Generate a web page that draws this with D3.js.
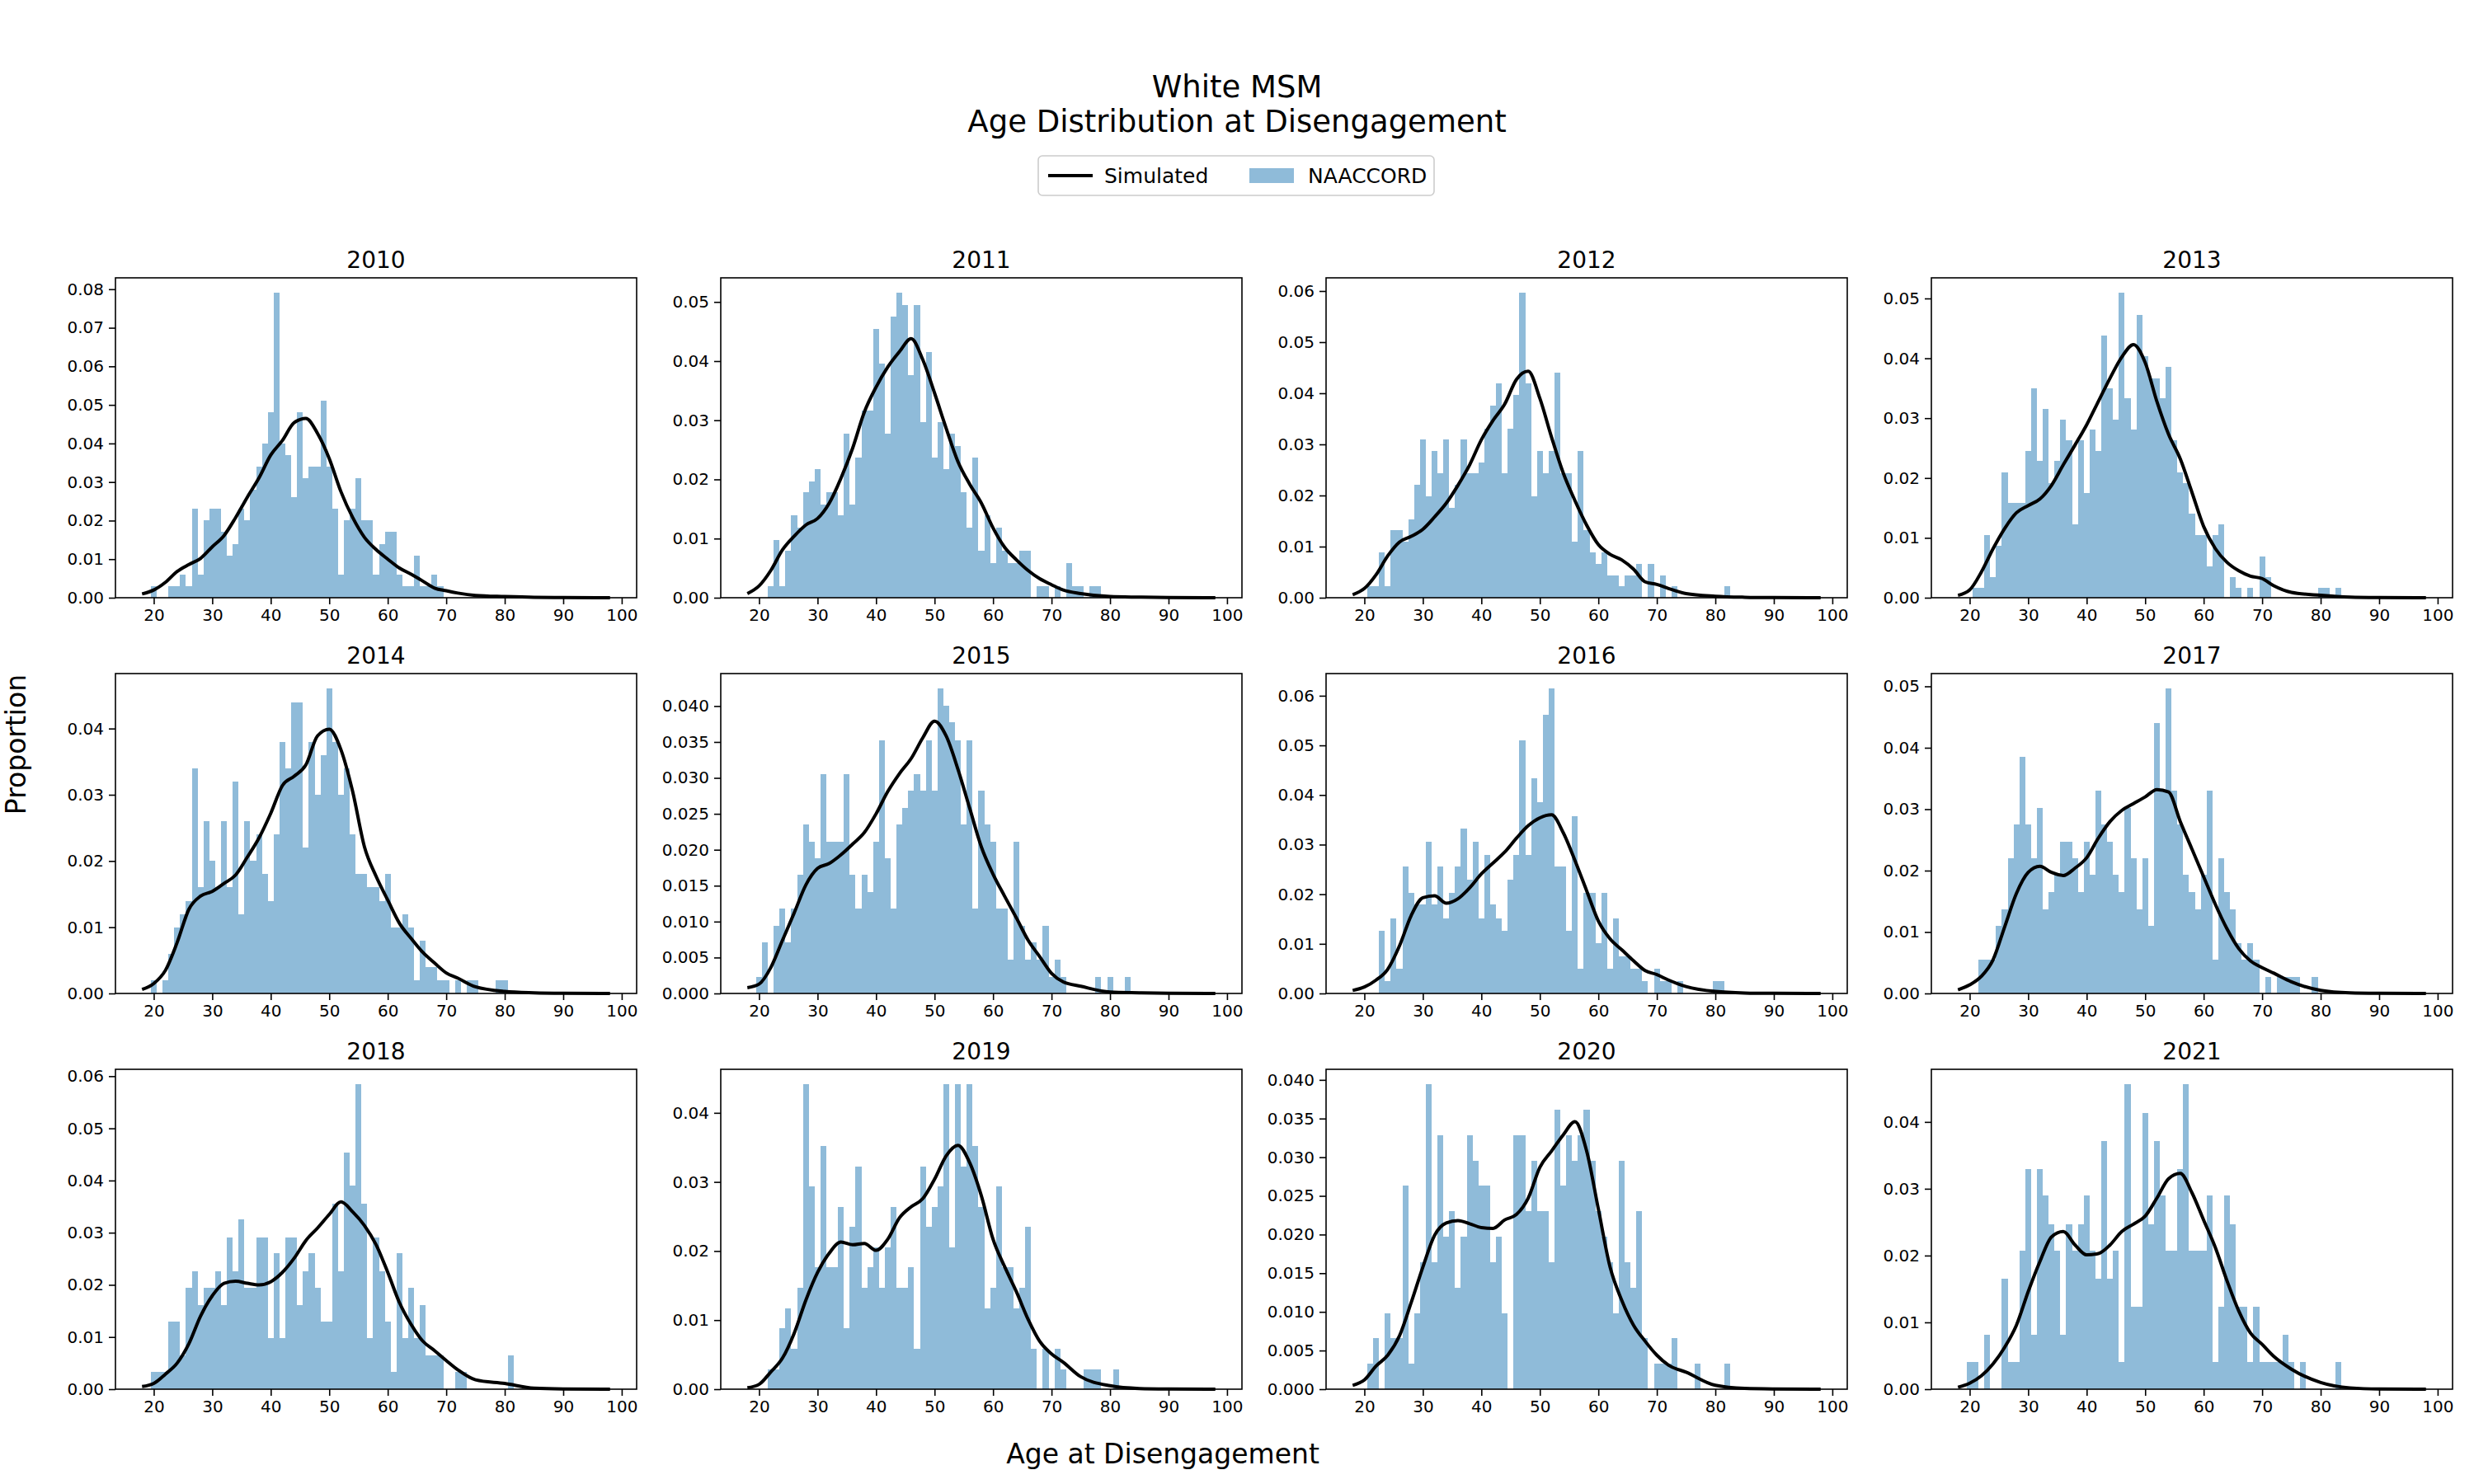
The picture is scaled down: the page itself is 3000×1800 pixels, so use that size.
<!DOCTYPE html>
<html>
<head>
<meta charset="utf-8">
<script src="https://cdn.jsdelivr.net/npm/d3@7"></script>
<style>
  body { margin: 0; background: #fff; }
  svg { font-family: "DejaVu Sans", sans-serif; }
</style>
</head>
<body>
<svg id="chart" width="3000" height="1800"></svg>
<script>
// panel years, in reading order
var years = [2010, 2011, 2012, 2013, 2014, 2015, 2016, 2017, 2018, 2019, 2020, 2021];

// ages where the simulated density was read off
var kdeAges = [18, 20, 22, 24, 26, 28, 30, 32, 34, 36, 38, 40, 42, 44, 46, 48, 50, 52, 54, 56,
  58, 60, 62, 64, 66, 68, 70, 72, 75, 80, 85, 90, 98];

// first age of each NAACCORD histogram (one bar per year of age)
var histStart = [20, 22, 21, 21, 20, 20, 23, 22, 20, 22, 21, 20];

// y tick spacing per panel
var yTickStep = [0.01, 0.01, 0.01, 0.01, 0.01, 0.005, 0.01, 0.01, 0.01, 0.01, 0.005, 0.01];

// NAACCORD proportions by age
var hist2010 = [.003, 0, 0, .003, .003, .006, .003, .023, .006, .020, .023, .023, .017, .011, .014, .023, .020, .028, .034, .040,
  .048, .079, .040, .037, .026, .048, .031, .034, .034, .051, .034, .023, .006, .020, .023, .031, .020, .020, .006, .014,
  .017, .017, .006, .003, .003, .011, .003, .003, .006, .003];
var hist2011 = [.002, .0098, .002, .0079, .0139, .0118, .0178, .0197, .0217, .0158, .0178, .0178, .0139, .0277, .0158, .0237, .0316, .0316, .0455, .0396,
  .0277, .0475, .0515, .0495, .0376, .0495, .0297, .0415, .0237, .0297, .0218, .0277, .0257, .0178, .0118, .0237, .0079, .0139, .0059, .0118,
  .0079, .0059, .0059, .0079, .0079, 0, .002, .002, 0, .002, 0, .0059, .002, .002, 0, .002, .002];
var hist2012 = [.0022, .0022, .0088, .0022, .0132, .0132, .011, .0154, .0221, .0309, .0198, .0287, .0243, .0309, .0176, .0221, .0309, .0243, .0243, .0265,
  .0331, .0375, .0419, .0243, .0331, .0397, .0596, .0419, .0198, .0287, .0243, .0287, .0441, .0243, .0243, .011, .0287, .0132, .0088, .0066,
  .0088, .0044, .0044, .0022, .0044, .0044, .0066, 0, .0066, 0, .0044, 0, .0022, 0, 0, 0, 0, 0, 0, 0, 0, .0022];
var hist2013 = [.0017, .0017, .0105, .0035, .0087, .021, .0158, .0158, .0158, .0245, .035, .0228, .0315, .0192, .0228, .0297, .0263, .0122, .0263, .0175,
  .0281, .0245, .0438, .035, .0297, .0509, .0333, .0281, .0472, .0403, .0367, .0367, .0333, .0386, .0263, .021, .0192, .014, .0105, .0105,
  .0052, .0105, .0122, 0, .0035, .0017, 0, .0017, 0, .0069, .0035, 0, 0, 0, 0, 0, 0, 0, 0, .0017, .0017, 0, .0017];
var hist2014 = [.002, 0, .002, .006, .01, .012, .014, .034, .016, .026, .02, .016, .026, .016, .032, .012, .026, .02, .024, .018,
  .014, .024, .038, .034, .044, .044, .022, .038, .03, .036, .046, .038, .03, .034, .024, .018, .018, .016, .016, .014,
  .018, .01, .01, .012, .01, .002, .008, .004, .004, .002, .002, 0, .002, 0, .002, .002, 0, 0, 0, .002, .002];
var hist2015 = [.0023, .0071, 0, .0094, .0118, .0071, .0118, .0165, .0235, .0211, .0188, .0305, .0211, .0211, .0211, .0305, .0165, .0118, .0165, .0141,
  .0211, .0352, .0188, .0118, .0235, .0258, .0282, .0305, .0282, .0352, .0282, .0424, .04, .0377, .0352, .0235, .0352, .0118, .0282, .0235,
  .0211, .0118, .0118, .0047, .0211, .0094, .0047, .0071, .0047, .0094, .0023, .0047, .0023, 0, 0, 0, 0, 0, .0023, 0,
  .0023, 0, 0, .0023];
var hist2016 = [.0127, .0025, .0152, .005, .0256, .0203, .018, .018, .0306, .018, .0256, .0152, .0203, .0256, .0332, .0229, .0306, .0152, .0279, .018,
  .0152, .0127, .0229, .0279, .051, .0279, .0434, .0385, .0562, .0614, .0256, .0256, .0127, .0357, .005, .0203, .0203, .0102, .0203, .005,
  .0152, .0075, .0075, .005, .005, .0025, 0, .005, .0025, .0025, 0, .0025, 0, 0, 0, 0, 0, .0025, .0025];
var hist2017 = [.0055, .0055, .0055, .011, .0137, .022, .0275, .0385, .0275, .022, .0302, .0137, .0165, .0193, .0247, .0247, .022, .0165, .0247, .0193,
  .033, .0275, .0247, .0193, .0165, .0302, .022, .0137, .022, .011, .044, .033, .0496, .033, .0275, .0193, .0165, .0137, .0193, .033,
  .0055, .022, .0165, .0137, .0082, .0055, .0082, .0055, 0, .0027, 0, .0027, .0027, .0027, .0027, 0, 0, .0027];
var hist2018 = [.0033, .0033, .0033, .0129, .0129, .0065, .0194, .0226, .0161, .0194, .0194, .0226, .0161, .0291, .0226, .0325, .0194, .0194, .0291, .0291,
  .0098, .026, .0098, .0291, .0291, .0161, .0226, .026, .0194, .0129, .0129, .0356, .0226, .0454, .039, .0584, .0356, .0098, .0291, .0226,
  .0129, .0033, .026, .0098, .0194, .0098, .0161, .0065, .0065, .0065, 0, 0, .0033, .0033, 0, 0, 0, 0, 0, 0,
  0, .0065];
var hist2019 = [.0029, .0029, .0088, .0117, .0058, .0147, .0441, .0294, .0177, .0352, .0177, .0177, .0264, .0088, .0235, .0322, .0147, .0177, .0205, .0147,
  .0205, .0264, .0147, .0147, .0177, .0058, .0322, .0235, .0264, .0294, .0441, .0205, .0441, .0322, .0441, .0352, .0264, .0117, .0147, .0294,
  .0177, .0177, .0117, .0147, .0235, .0058, 0, .0058, 0, .0058, .0029, 0, 0, 0, .0029, .0029, .0029, 0, 0, .0029];
var hist2020 = [.0033, .0066, 0, .0098, .0066, .0066, .0263, .0033, .0098, .0164, .0394, .0164, .0328, .0197, .023, .0131, .0197, .0328, .0295, .0263,
  .0263, .0164, .0197, .0098, 0, .0328, .0328, .023, .0295, .023, .023, .0164, .0361, .0263, .0328, .0295, .0328, .0361, .0295, .023,
  .0197, .0164, .0098, .0295, .0164, .0131, .023, .0066, 0, .0033, .0033, .0033, .0066, 0, 0, 0, .0033, 0, 0, 0,
  0, .0033];
var hist2021 = [.0041, .0041, 0, .0082, 0, 0, .0165, .0041, .0041, .0207, .033, .0082, .033, .029, .0247, .0207, .0082, .0247, .0207, .0247,
  .029, .0207, .0165, .0372, .0165, .0207, .0041, .0456, .0124, .0124, .0414, .0247, .0372, .029, .0207, .0207, .033, .0456, .0207, .0207,
  .0207, .029, .0041, .0124, .029, .0247, .0124, .0124, .0041, .0124, .0041, .0041, .0041, .0041, .0082, .0041, 0, .0041, 0, 0,
  0, 0, 0, .0041];

// simulated density at kdeAges
var kde2010 = [.001, .002, .004, .0068, .0086, .0102, .0132, .0161, .0208, .0261, .0311, .037, .0408, .0454, .0465, .0426, .0361, .0275, .0208, .0157,
  .0125, .01, .0077, .0061, .0043, .0025, .0018, .0012, .0006, .0003, .0001, .00005, 0];
var kde2011 = [.0007, .002, .0046, .0081, .0104, .0123, .0134, .016, .0202, .0253, .0314, .0356, .039, .0416, .0438, .0402, .0346, .0286, .023, .0192,
  .016, .0118, .0085, .0064, .0046, .0032, .0022, .0013, .0007, .0002, .0001, .00003, 0];
var kde2012 = [.0006, .0018, .0045, .0082, .0109, .012, .0134, .0158, .0185, .022, .026, .0309, .0347, .0379, .0427, .0443, .039, .0314, .0244, .019,
  .0142, .0104, .0085, .0074, .0056, .0031, .0026, .0018, .0008, .0003, .0001, .00003, 0];
var kde2013 = [.0004, .0013, .0043, .0082, .0116, .0142, .0154, .0165, .0188, .0222, .0255, .0289, .0328, .0367, .0402, .0423, .0393, .0328, .0273, .0232,
  .0176, .0119, .0082, .0059, .0045, .0036, .0032, .002, .0009, .0004, .0001, .00003, 0];
var kde2014 = [.0006, .0015, .0035, .0077, .0127, .0147, .0154, .0166, .0179, .0206, .0235, .0272, .0314, .0328, .0345, .0389, .0399, .0368, .0305, .0222,
  .0177, .0141, .0106, .0083, .0062, .0046, .0031, .0023, .001, .0003, .0001, .00003, 0];
var kde2015 = [.0008, .0013, .0036, .0074, .0112, .0151, .0174, .0181, .0193, .0208, .0224, .025, .0281, .0306, .0327, .0356, .0379, .0358, .0312, .0258,
  .0204, .0166, .0135, .0105, .0074, .0051, .0028, .0016, .001, .0002, .0001, .00003, 0];
var kde2016 = [.0006, .0013, .0027, .0049, .0096, .0157, .0193, .0197, .0182, .0191, .0213, .0241, .0263, .0285, .0313, .0338, .0354, .036, .0324, .0268,
  .0207, .0146, .011, .0088, .0066, .0046, .0038, .0027, .0014, .0004, .0001, .00003, 0];
var kde2017 = [.0006, .0014, .0028, .0055, .0109, .0163, .0197, .0207, .0197, .0192, .0204, .0221, .0253, .028, .0298, .0309, .032, .0332, .0328, .028,
  .0235, .019, .0145, .0105, .0073, .0053, .0042, .0033, .0019, .0005, .0001, .00003, 0];
var kde2018 = [.0005, .0011, .0029, .005, .0087, .014, .0179, .0203, .0207, .0203, .02, .0206, .0224, .0251, .0285, .0309, .0335, .0359, .034, .0314,
  .0277, .0224, .0166, .0124, .0092, .0074, .0055, .0037, .0018, .0011, .0002, .00005, 0];
var kde2019 = [.0002, .0007, .0025, .0045, .0081, .0129, .0169, .0197, .0213, .0209, .0211, .0201, .0217, .0248, .0264, .0276, .0304, .0338, .0353, .0328,
  .028, .0217, .0177, .0141, .0101, .0069, .0051, .0039, .0018, .0005, .0001, .00003, 0];
var kde2020 = [.0005, .0012, .003, .0044, .0069, .0112, .0158, .0199, .0215, .0218, .0214, .0209, .0208, .0219, .0226, .0247, .0287, .0308, .0329, .0346,
  .0308, .0233, .0158, .0115, .0083, .0062, .0044, .0031, .0022, .0005, .0001, .00003, 0];
var kde2021 = [.0003, .0009, .002, .0038, .0063, .0096, .0146, .0191, .0228, .0236, .0216, .0201, .0203, .0216, .0236, .0247, .0259, .0286, .0315, .0323,
  .0294, .0253, .0212, .0162, .0117, .0084, .0067, .0049, .003, .001, .0002, .00003, 0];

var xTicks = [20, 30, 40, 50, 60, 70, 80, 90, 100];

var histValues = [hist2010, hist2011, hist2012, hist2013, hist2014, hist2015, hist2016, hist2017, hist2018, hist2019, hist2020, hist2021];
var kdeValues = [kde2010, kde2011, kde2012, kde2013, kde2014, kde2015, kde2016, kde2017, kde2018, kde2019, kde2020, kde2021];

// layout
var colLeft = [140, 874, 1608, 2342];
var rowTop = [337, 817, 1297];
var pw = 632, ph = 388;
var barColor = '#1f77b4';

var svg = d3.select('#chart');

// titles
svg.append('text')
  .attr('x', 1500).attr('y', 118)
  .attr('text-anchor', 'middle')
  .style('font-size', '37px')
  .text('White MSM');
svg.append('text')
  .attr('x', 1500).attr('y', 160)
  .attr('text-anchor', 'middle')
  .style('font-size', '37px')
  .text('Age Distribution at Disengagement');

// legend
var legend = svg.append('g').attr('transform', 'translate(1259,189)');
legend.append('rect')
  .attr('width', 480).attr('height', 48)
  .attr('rx', 5)
  .attr('fill', '#fff')
  .attr('stroke', '#cccccc')
  .attr('stroke-width', 1.6);
legend.append('line')
  .attr('x1', 12).attr('x2', 66)
  .attr('y1', 24).attr('y2', 24)
  .attr('stroke', '#000')
  .attr('stroke-width', 4);
legend.append('text')
  .attr('x', 80).attr('y', 33)
  .style('font-size', '25px')
  .text('Simulated');
legend.append('rect')
  .attr('x', 256).attr('y', 15)
  .attr('width', 54).attr('height', 18)
  .attr('fill', barColor)
  .attr('fill-opacity', 0.5);
legend.append('text')
  .attr('x', 327).attr('y', 33)
  .style('font-size', '25px')
  .text('NAACCORD');

// axis labels
svg.append('text')
  .attr('transform', 'translate(31,903) rotate(-90)')
  .attr('text-anchor', 'middle')
  .style('font-size', '33px')
  .text('Proportion');
svg.append('text')
  .attr('x', 1410).attr('y', 1775)
  .attr('text-anchor', 'middle')
  .style('font-size', '33px')
  .text('Age at Disengagement');

years.forEach(function (year, i) {
  var hist = histValues[i].map(function (v, j) { return { age: histStart[i] + j, value: v }; });
  var kde = kdeValues[i].map(function (v, j) { return { age: kdeAges[j], value: v }; });

  var yMax = Math.max(d3.max(hist, function (d) { return d.value; }),
                      d3.max(kde, function (d) { return d.value; })) * 1.05;

  var x = d3.scaleLinear().domain([13.45, 102.55]).range([0, pw]);
  var y = d3.scaleLinear().domain([0, yMax]).range([ph, 0]);

  var g = svg.append('g')
    .attr('transform', 'translate(' + colLeft[i % 4] + ',' + rowTop[Math.floor(i / 4)] + ')');

  // histogram bars
  g.selectAll('.bar')
    .data(hist.filter(function (d) { return d.value > 0; }))
    .enter().append('rect')
    .attr('class', 'bar')
    .attr('x', function (d) { return x(d.age - 0.5); })
    .attr('width', function (d) { return x(d.age + 0.5) - x(d.age - 0.5); })
    .attr('y', function (d) { return y(d.value); })
    .attr('height', function (d) { return ph - y(d.value); })
    .attr('fill', barColor)
    .attr('fill-opacity', 0.5)
    .attr('shape-rendering', 'crispEdges');

  // simulated density
  var line = d3.line()
    .x(function (d) { return x(d.age); })
    .y(function (d) { return y(d.value); })
    .curve(d3.curveMonotoneX);
  g.append('path')
    .datum(kde)
    .attr('d', line)
    .attr('fill', 'none')
    .attr('stroke', '#000')
    .attr('stroke-width', 4)
    .attr('stroke-linejoin', 'round');

  // axes
  var step = yTickStep[i];
  var yTicks = d3.range(0, yMax + 1e-9, step);
  var fmt = d3.format(step < 0.01 ? '.3f' : '.2f');

  var xAxis = d3.axisBottom(x).tickValues(xTicks).tickSizeOuter(0).tickSize(8).tickPadding(6);
  var yAxis = d3.axisLeft(y).tickValues(yTicks).tickFormat(fmt).tickSizeOuter(0).tickSize(8).tickPadding(6);

  var xa = g.append('g').attr('transform', 'translate(0,' + ph + ')').call(xAxis);
  var ya = g.append('g').call(yAxis);
  [xa, ya].forEach(function (a) {
    a.select('.domain').remove();
    a.selectAll('.tick line').attr('stroke', '#000').attr('stroke-width', 1.6);
    a.selectAll('.tick text')
      .attr('fill', '#000')
      .style('font-size', '20px')
      .style('font-family', '"DejaVu Sans", sans-serif');
  });

  // frame
  g.append('rect')
    .attr('width', pw).attr('height', ph)
    .attr('fill', 'none')
    .attr('stroke', '#000')
    .attr('stroke-width', 1.6);

  // panel title
  g.append('text')
    .attr('x', pw / 2).attr('y', -12)
    .attr('text-anchor', 'middle')
    .style('font-size', '28px')
    .text(year);
});
</script>
</body>
</html>
